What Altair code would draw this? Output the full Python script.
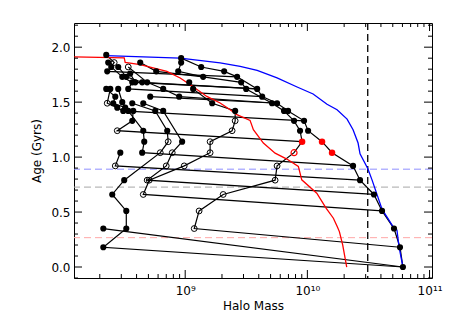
import altair as alt
import pandas as pd

# ---------------- data (log10 halo mass, age in Gyr) ----------------
blue_logm = [8.354, 8.959, 9.286, 9.450, 9.589, 9.752, 9.916, 10.047, 10.161, 10.243, 10.325,
             10.374, 10.415, 10.431, 10.496, 10.529, 10.611, 10.701, 10.733, 10.750, 10.782]
blue_age = [1.923, 1.901, 1.857, 1.826, 1.789, 1.720, 1.638, 1.574, 1.481, 1.431, 1.346,
            1.249, 1.128, 1.030, 0.891, 0.793, 0.526, 0.367, 0.337, 0.185, 0.0]

red_logm = [8.092, 8.501, 8.509, 8.632, 8.850, 8.959, 9.068, 9.177, 9.286, 9.368, 9.423, 9.531,
            9.558, 9.640, 9.736, 9.832, 9.926, 9.954, 10.077, 10.153, 10.213, 10.245, 10.262,
            10.289, 10.322]
red_age = [1.912, 1.902, 1.862, 1.841, 1.780, 1.720, 1.638, 1.552, 1.492, 1.431, 1.386, 1.334,
           1.249, 1.128, 1.036, 0.982, 0.916, 0.793, 0.672, 0.535, 0.444, 0.367, 0.322, 0.201, 0.0]

# merger-tree branches: log10 mass, age, marker kind (f filled, o open, r red filled, q red open),
# and the (log10 mass, age) of the halo each branch merges into
branches = {
    "A": dict(logm=[8.967, 9.131, 9.319, 9.425, 9.589, 9.630, 9.752, 9.842, 9.973, 10.006, 10.120,
                    10.202, 10.374, 10.431, 10.545, 10.611, 10.709, 10.758, 10.782],
              age=[1.90, 1.82, 1.78, 1.73, 1.62, 1.55, 1.49, 1.42, 1.33, 1.24, 1.14, 1.04, 0.92,
                   0.79, 0.66, 0.51, 0.35, 0.18, 0.00],
              kind=list("ffffffffffrrfffffff"), merge=None),
    "B": dict(logm=[8.967, 8.943, 9.147, 9.458, 9.499, 9.711, 9.809, 9.891, 9.940, 9.957, 9.891,
                    9.752, 9.736, 9.311, 9.114, 9.074],
              age=[1.86, 1.78, 1.73, 1.68, 1.62, 1.49, 1.42, 1.33, 1.24, 1.14, 1.04, 0.92, 0.79,
                   0.66, 0.51, 0.35],
              kind=list("fffffffffrqooooo"), merge=(10.758, 0.18)),
    "C": dict(logm=[9.033, 9.065, 9.221, 9.409, 9.409, 9.384, 9.204, 9.204, 8.992, 8.706, 8.657],
              age=[1.68, 1.62, 1.49, 1.42, 1.33, 1.24, 1.14, 1.04, 0.92, 0.79, 0.66],
              kind=list("ffffooooooo"), merge=(10.611, 0.51)),
    "U1": dict(logm=[8.354, 8.419, 8.362], age=[1.93, 1.86, 1.78],
               kind=list("fof"), merge=(9.425, 1.73)),
    "U2": dict(logm=[8.370, 8.395, 8.485, 8.567, 8.534], age=[1.86, 1.82, 1.73, 1.68, 1.62],
               kind=list("fffff"), merge=(9.630, 1.55)),
    "U3": dict(logm=[8.452, 8.518, 8.648], age=[1.82, 1.73, 1.68],
               kind=list("fff"), merge=(9.589, 1.62)),
    "U4": dict(logm=[8.632, 8.763], age=[1.86, 1.78],
               kind=list("ff"), merge=(9.147, 1.73)),
    "U5": dict(logm=[8.534, 8.689, 8.820, 8.951], age=[1.82, 1.68, 1.62, 1.55],
               kind=list("offf"), merge=(9.752, 1.49)),
    "U6": dict(logm=[8.354, 8.428, 8.411, 8.509, 8.575, 8.567, 8.444],
               age=[1.62, 1.55, 1.49, 1.45, 1.42, 1.33, 1.24],
               kind=list("ffffffo"), merge=(9.957, 1.14)),
    "U7": dict(logm=[8.387, 8.362, 8.444, 8.493], age=[1.62, 1.49, 1.45, 1.42],
               kind=list("foff"), merge=(9.973, 1.33)),
    "U8": dict(logm=[8.452, 8.485, 8.534, 8.657, 8.665, 8.648],
               age=[1.62, 1.50, 1.42, 1.24, 1.14, 1.04],
               kind=list("ffffff"), merge=(10.374, 0.92)),
    "U9": dict(logm=[8.567, 8.755, 8.853, 8.861, 8.796, 8.501, 8.403, 8.518, 8.518, 8.330],
               age=[1.49, 1.42, 1.24, 1.14, 1.04, 0.79, 0.66, 0.51, 0.35, 0.18],
               kind=list("fffooffff f".replace(" ", "")), merge=(10.782, 0.0)),
    "U10": dict(logm=[8.657, 8.820, 8.975, 8.894, 8.845, 8.689],
                age=[1.49, 1.42, 1.14, 1.04, 0.92, 0.79],
                kind=list("fffooo"), merge=(10.545, 0.66)),
    "U11": dict(logm=[8.469, 8.428], age=[1.04, 0.92], kind=list("fo"), merge=(10.431, 0.79)),
    "U12": dict(logm=[8.330], age=[0.35], kind=list("f"), merge=(10.782, 0.0)),
    "U13": dict(logm=[8.550, 8.591], age=[1.76, 1.68], kind=list("ff"), merge=(9.589, 1.62)),
    "U14": dict(logm=[8.714], age=[1.55], kind=list("f"), merge=(9.752, 1.49)),
}

ref_mass_logm = 10.494                      # vertical dashed line
ref_ages = [0.89, 0.727, 0.267]             # horizontal dashed lines
ref_colors = ["#8f8fff", "#a6a6a6", "#ffa8a8"]

x_label_vals = [1e9, 1e10, 1e11]
x_minor = [k * 10.0 ** e for e in (8, 9, 10) for k in range(2, 10)]
y_major = [0.0, 0.5, 1.0, 1.5, 2.0]
y_minor = [-0.1, 0.1, 0.2, 0.3, 0.4, 0.6, 0.7, 0.8, 0.9, 1.1, 1.2, 1.3, 1.4, 1.6, 1.7, 1.8,
           1.9, 2.1, 2.2]

# ---------------- tables ----------------
line_rows, point_rows = [], []
for name, b in branches.items():
    for i, (m, a, k) in enumerate(zip(b["logm"], b["age"], b["kind"])):
        line_rows.append(dict(branch=name, order=i, mass=10 ** m, age=a))
        point_rows.append(dict(mass=10 ** m, age=a, kind=k))
    if b["merge"] is not None:
        line_rows.append(dict(branch=name, order=len(b["logm"]),
                              mass=10 ** b["merge"][0], age=b["merge"][1]))
lines_df = pd.DataFrame(line_rows)
points_df = pd.DataFrame(point_rows)
blue_df = pd.DataFrame(dict(mass=[10 ** v for v in blue_logm], age=blue_age,
                            order=list(range(len(blue_age)))))
red_df = pd.DataFrame(dict(mass=[10 ** v for v in red_logm], age=red_age,
                           order=list(range(len(red_age)))))
h_df = pd.DataFrame(dict(age=ref_ages, col=ref_colors))
v_df = pd.DataFrame(dict(mass=[10 ** ref_mass_logm]))

W, H = 358, 255
xs = alt.Scale(type="log", domain=[10 ** 8.09, 10 ** 11.02], nice=False)
ys = alt.Scale(domain=[-0.1, 2.22], nice=False, zero=False)
xaxis = alt.Axis(values=x_label_vals,
                 labelExpr="datum.value < 3e9 ? '10\u2079' : (datum.value < 3e10 ? '10\u00b9\u2070' : '10\u00b9\u00b9')",
                 ticks=False, tickSize=0, domain=False, grid=False, labelPadding=7,
                 titlePadding=4, labelFlush=False, labelOverlap=False)
yaxis = alt.Axis(values=y_major, format=".1f", ticks=False, tickSize=0, domain=False, grid=False,
                 labelPadding=4, titlePadding=7, labelFlush=False, labelOverlap=False)


def X(f="mass"):
    return alt.X(f, type="quantitative", scale=xs, axis=xaxis, title="Halo Mass")


def Y(f="age"):
    return alt.Y(f, type="quantitative", scale=ys, axis=yaxis, title="Age (Gyrs)")


hlines = alt.Chart(h_df).mark_rule(strokeDash=[7, 4], strokeWidth=1).encode(
    y=Y(), color=alt.Color("col:N", scale=None))
vline = alt.Chart(v_df).mark_rule(strokeDash=[7, 4], strokeWidth=1.3, color="black").encode(x=X())
tree = alt.Chart(lines_df).mark_line(color="black", strokeWidth=1.2).encode(
    x=X(), y=Y(), detail="branch:N", order="order:Q")
red = alt.Chart(red_df).mark_line(color="#ff0000", strokeWidth=1.3, clip=True).encode(
    x=X(), y=Y(), order="order:Q")
blue = alt.Chart(blue_df).mark_line(color="#0000ff", strokeWidth=1.3).encode(
    x=X(), y=Y(), order="order:Q")

pts = alt.Chart(points_df)
p_f = pts.transform_filter("datum.kind == 'f'").mark_circle(size=38, color="black", opacity=1).encode(x=X(), y=Y())
p_o = pts.transform_filter("datum.kind == 'o'").mark_point(shape="circle", filled=False, color="black",
                                                          size=34, strokeWidth=1, opacity=1).encode(x=X(), y=Y())
p_r = pts.transform_filter("datum.kind == 'r'").mark_circle(size=42, color="#ff0000", opacity=1).encode(x=X(), y=Y())
p_q = pts.transform_filter("datum.kind == 'q'").mark_point(shape="circle", filled=False, color="#ff0000",
                                                          size=36, strokeWidth=1.2, opacity=1).encode(x=X(), y=Y())

xmaj_df = pd.DataFrame(dict(mass=x_label_vals))
xmin_df = pd.DataFrame(dict(mass=x_minor))
ymaj_df = pd.DataFrame(dict(age=y_major))
ymin_df = pd.DataFrame(dict(age=y_minor))
MAJ, MIN = 8, 4
tick_layers = []
for df, ln in ((xmaj_df, MAJ), (xmin_df, MIN)):
    tick_layers.append(alt.Chart(df).mark_rule(color="black", strokeWidth=1).encode(
        x=X(), y=alt.value(H), y2=alt.value(H - ln)))
    tick_layers.append(alt.Chart(df).mark_rule(color="black", strokeWidth=1).encode(
        x=X(), y=alt.value(0), y2=alt.value(ln)))
for df, ln in ((ymaj_df, MAJ), (ymin_df, MIN)):
    tick_layers.append(alt.Chart(df).mark_rule(color="black", strokeWidth=1).encode(
        y=Y(), x=alt.value(0), x2=alt.value(ln)))
    tick_layers.append(alt.Chart(df).mark_rule(color="black", strokeWidth=1).encode(
        y=Y(), x=alt.value(W), x2=alt.value(W - ln)))

chart = alt.layer(hlines, vline, tree, red, blue, p_f, p_o, p_r, p_q, *tick_layers).properties(
    width=W, height=H,
    autosize=alt.AutoSizeParams(type="none"),
    padding={"left": 66, "top": 15, "right": 15, "bottom": 40},
).configure_view(stroke="black", strokeWidth=1).configure_axis(
    labelFont="DejaVu Sans", titleFont="DejaVu Sans", labelFontSize=12, titleFontSize=12,
    titleFontWeight="normal", labelColor="black", titleColor="black")

chart.save("out.html", embed_options={"renderer": "svg", "actions": False})
